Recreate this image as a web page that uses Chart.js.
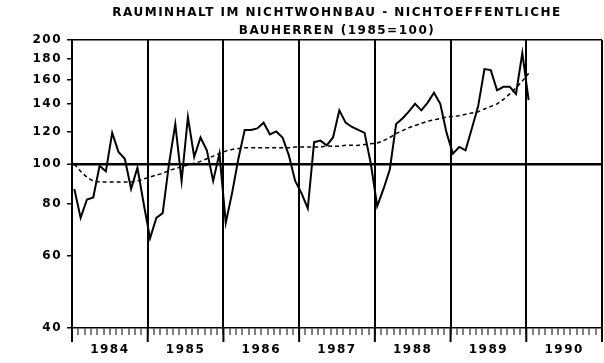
<!DOCTYPE html>
<html>
<head>
<meta charset="utf-8">
<script src="https://cdn.jsdelivr.net/npm/chart.js@4.4.1/dist/chart.umd.min.js"></script>
<style>
  html, body { margin: 0; padding: 0; background: #fff; }
</style>
</head>
<body>
<canvas id="bau-Chart" width="604" height="363"></canvas>
<script>
// Jahre (Achsenbeschriftung) und y-Ticks
const years = ['1984', '1985', '1986', '1987', '1988', '1989', '1990'];
const yTicks = [40, 60, 80, 100, 120, 140, 160, 180, 200];

// Monatswerte Jan 1984 .. Jan 1990 (1985 = 100)
const raumIndex = [
  87, 74, 82, 83, 99, 96, 119, 107, 103, 87, 98, 80,          // 1984
  66, 74, 76, 100, 125, 91, 130, 104, 116, 108, 91, 106,      // 1985
  72, 85, 103, 121, 121, 122, 126, 118, 120, 116, 105, 91,    // 1986
  85, 78, 113, 114, 111, 116, 135, 126, 123, 121, 119, 100,   // 1987
  79, 87, 97, 125, 129, 134, 140, 135, 141, 149, 140, 119,    // 1988
  106, 110, 108, 122, 138, 170, 169, 151, 154, 154, 148, 186, // 1989
  143                                                         // Jan 1990
];

// Trend (gestrichelt)
const trend = [
  100, 96, 93, 91, 90.5, 90.5, 90.5, 90.5, 90.5, 90.5, 91, 92,
  93, 94, 95, 96.5, 97.5, 98.5, 99.5, 100.5, 101.5, 103, 104.5, 106,
  107.5, 108.5, 109, 109.5, 109.5, 109.5, 109.5, 109.5, 109.5, 109.5, 109.5, 110,
  110, 110, 110, 110, 110.5, 110.5, 110.5, 111, 111, 111, 111.5, 112,
  112.5, 114, 116, 118.5, 120.5, 122.5, 124, 125.5, 127, 128, 129, 130,
  130.5, 131, 132, 133, 134, 136, 138, 140, 143.5, 148, 153, 159,
  166
];

const xStart = -0.37; // Monatsmitte liegt leicht nach dem Jahresstrich
const plotFont = { family: 'DejaVu Sans', weight: 'bold', size: 12 };

// Plotter-Schrift etwas breiter + lange Jahresstriche unter der Achse
const plotterStyle = {
  id: 'plotterStyle',
  beforeUpdate(chart) { chart.ctx.letterSpacing = '1.5px'; },
  beforeDraw(chart) { chart.ctx.letterSpacing = '1.5px'; },
  afterDraw(chart) {
    const { ctx, chartArea, scales: { x } } = chart;
    ctx.save();
    ctx.strokeStyle = '#000';
    ctx.lineWidth = 2;
    for (let k = 0; k <= years.length; k++) {
      const px = x.getPixelForValue(xStart + 12 * k);
      ctx.beginPath();
      ctx.moveTo(px, chartArea.bottom);
      ctx.lineTo(px, chartArea.bottom + 14);
      ctx.stroke();
    }
    ctx.restore();
  }
};

const ctx = document.getElementById('bau-Chart').getContext('2d');
new Chart(ctx, {
  type: 'line',
  data: {
    datasets: [
      {
        label: 'Rauminhalt',
        data: raumIndex.map((v, i) => ({ x: i, y: v })),
        borderColor: '#000',
        borderWidth: 2,
        pointRadius: 0,
        tension: 0
      },
      {
        label: 'Trend',
        data: trend.map((v, i) => ({ x: i, y: v })),
        borderColor: '#000',
        borderWidth: 1.5,
        borderDash: [4, 3],
        pointRadius: 0,
        tension: 0.3
      }
    ]
  },
  options: {
    responsive: false,
    animation: false,
    layout: { padding: { left: 0, right: 2, top: 0, bottom: 0 } },
    plugins: {
      legend: { display: false },
      tooltip: { enabled: false },
      title: {
        display: true,
        fullSize: false,
        text: ['RAUMINHALT IM NICHTWOHNBAU - NICHTOEFFENTLICHE', 'BAUHERREN (1985=100)'],
        color: '#000',
        font: { family: 'DejaVu Sans', weight: 'bold', size: 12, lineHeight: 1.5 },
        padding: { top: 4, bottom: 0 }
      }
    },
    scales: {
      x: {
        type: 'linear',
        bounds: 'data',
        min: xStart,
        max: xStart + 12 * years.length,
        afterBuildTicks: axis => {
          axis.ticks = Array.from({ length: 12 * years.length + 1 }, (_, k) => ({ value: xStart + k }));
        },
        afterFit: s => { s.height = 35; s.paddingLeft = 0; s.paddingRight = 0; },
        border: { color: '#000', width: 1.5 },
        grid: {
          color: c => (c.index % 12 === 0 ? '#000' : 'rgba(0,0,0,0)'),
          lineWidth: 2,
          tickColor: '#000',
          tickLength: 7,
          tickWidth: 1
        },
        ticks: {
          autoSkip: false,
          maxRotation: 0,
          padding: 8,
          color: '#000',
          font: plotFont,
          callback: (v, k) => (k % 12 === 6 ? years[Math.floor(k / 12)] : '')
        }
      },
      y: {
        type: 'logarithmic',
        min: 40,
        max: 200,
        afterBuildTicks: axis => { axis.ticks = yTicks.map(v => ({ value: v })); },
        afterFit: s => { s.width = 72; },
        border: { color: '#000', width: 2 },
        grid: {
          color: c => (c.tick && (c.tick.value === 100 || c.tick.value === 200) ? '#000' : 'rgba(0,0,0,0)'),
          lineWidth: c => (c.tick && c.tick.value === 100 ? 2.5 : 1.5),
          tickColor: '#000',
          tickLength: 5,
          tickWidth: 1.5
        },
        ticks: {
          autoSkip: false,
          padding: 5,
          color: '#000',
          font: plotFont,
          callback: v => String(v)
        }
      }
    }
  },
  plugins: [plotterStyle]
});
</script>
</body>
</html>
